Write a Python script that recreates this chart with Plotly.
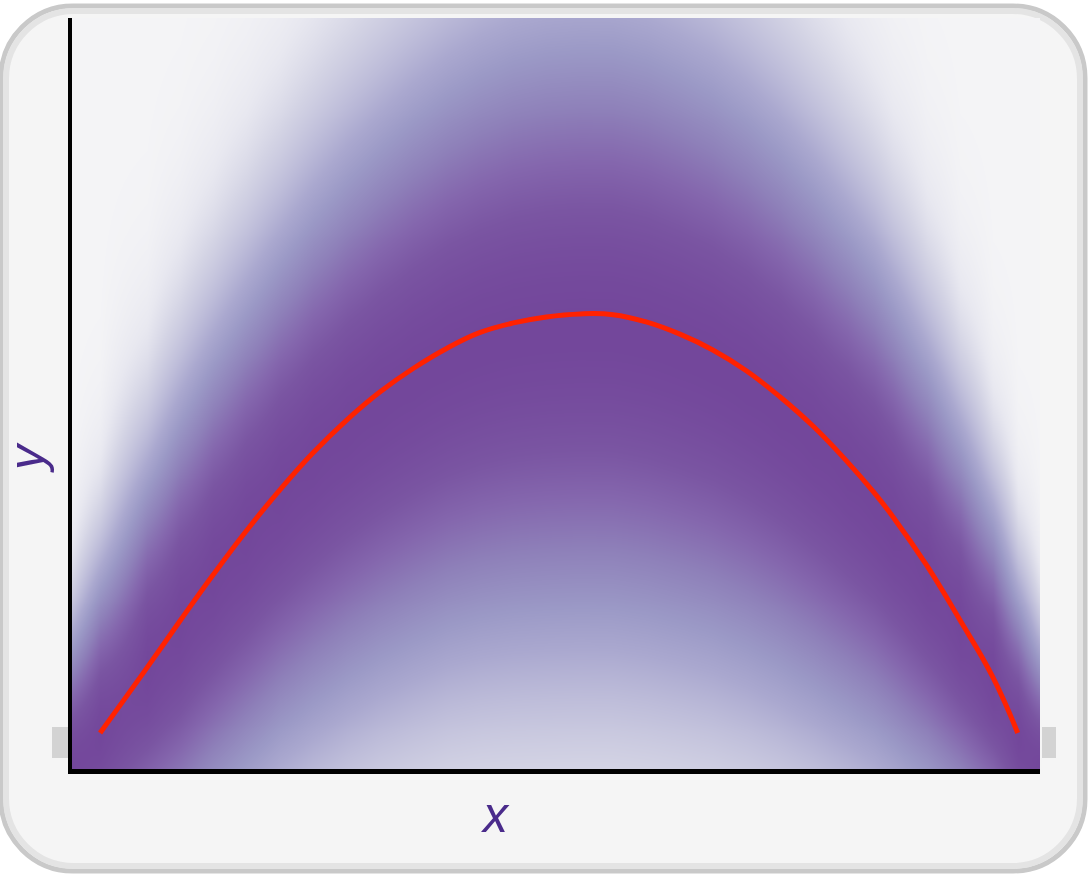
import numpy as np
import plotly.graph_objs as go

# red mean curve (x, y in 0..1 of the plot box)
curve_x = [0.029, 0.077, 0.112, 0.146, 0.180, 0.215, 0.249, 0.284, 0.318, 0.352,
           0.387, 0.421, 0.456, 0.490, 0.525, 0.559, 0.594, 0.628, 0.662, 0.697,
           0.731, 0.766, 0.801, 0.828, 0.848, 0.883, 0.917, 0.951, 0.977]
curve_y = [0.048, 0.134, 0.198, 0.259, 0.317, 0.372, 0.421, 0.465, 0.502, 0.533,
           0.560, 0.581, 0.594, 0.602, 0.606, 0.605, 0.595, 0.579, 0.558, 0.530,
           0.496, 0.456, 0.409, 0.369, 0.336, 0.271, 0.199, 0.123, 0.048]

# shaded band: centre and spread at each column (edges added at x = 0 and 1)
band_x = [0.0] + curve_x + [1.0]
band_mid = [0.0, 0.045, 0.131, 0.191, 0.253, 0.308, 0.363, 0.410, 0.452, 0.487, 0.517,
            0.544, 0.563, 0.576, 0.583, 0.586, 0.585, 0.575, 0.559, 0.540, 0.512,
            0.479, 0.440, 0.395, 0.357, 0.323, 0.260, 0.191, 0.118, 0.045, 0.0]
band_sd = [0.135, 0.165, 0.205, 0.229, 0.242, 0.253, 0.262, 0.272, 0.280, 0.287, 0.294,
           0.300, 0.306, 0.311, 0.314, 0.315, 0.315, 0.313, 0.309, 0.304, 0.297,
           0.289, 0.279, 0.267, 0.256, 0.246, 0.226, 0.202, 0.173, 0.146, 0.12]

# plot box in page pixels
L, R, T, B = 72, 1040, 18, 769


def px(x):
    return (x - L) / (R - L)


def py(y):
    return (B - y) / (B - T)


def rounded_box(x0, y0, x1, y1, r):
    k = 0.5523 * r
    pts = [
        f"M{px(x0 + r)},{py(y0)}",
        f"L{px(x1 - r)},{py(y0)}",
        f"C{px(x1 - r + k)},{py(y0)} {px(x1)},{py(y0 + r - k)} {px(x1)},{py(y0 + r)}",
        f"L{px(x1)},{py(y1 - r)}",
        f"C{px(x1)},{py(y1 - r + k)} {px(x1 - r + k)},{py(y1)} {px(x1 - r)},{py(y1)}",
        f"L{px(x0 + r)},{py(y1)}",
        f"C{px(x0 + r - k)},{py(y1)} {px(x0)},{py(y1 - r + k)} {px(x0)},{py(y1 - r)}",
        f"L{px(x0)},{py(y0 + r)}",
        f"C{px(x0)},{py(y0 + r - k)} {px(x0 + r - k)},{py(y0)} {px(x0 + r)},{py(y0)}",
        "Z",
    ]
    return " ".join(pts)


y_grid = np.linspace(-0.02, 1.03, 160)
mid = np.array(band_mid)
sd = np.array(band_sd)
z = np.exp(-0.5 * ((y_grid[:, None] - mid[None, :]) / sd[None, :]) ** 2)

purples = [
    [0.0, "#f4f4f6"],
    [0.08, "#e8e8f0"],
    [0.18, "#d3d3e4"],
    [0.3, "#bdbcd9"],
    [0.4, "#aaa8cf"],
    [0.5, "#9b99c6"],
    [0.65, "#8e80b9"],
    [0.78, "#8466ad"],
    [0.88, "#7a55a2"],
    [1.0, "#73479b"],
]

fig = go.Figure()

fig.add_trace(go.Heatmap(x=band_x, y=y_grid, z=z, colorscale=purples, zmin=0, zmax=1,
                         zsmooth="best", showscale=False, hoverinfo="skip"))

fig.add_trace(go.Scatter(x=curve_x, y=curve_y, mode="lines",
                         line=dict(color="#ff2200", width=5, shape="spline", smoothing=1.2),
                         hoverinfo="skip", showlegend=False))

# rounded panel behind everything
fig.add_shape(type="path", path=rounded_box(1, 6, 1085, 871, 72), xref="paper", yref="paper",
              fillcolor="#f5f5f5", line=dict(color="#c9c9c9", width=5), layer="below")
fig.add_shape(type="path", path=rounded_box(6, 11, 1080, 866, 68), xref="paper", yref="paper",
              fillcolor="rgba(0,0,0,0)", line=dict(color="#e4e4e4", width=6), layer="below")

# little grey smudges either side of the baseline
for x0, x1 in [(52, 68), (1042, 1056)]:
    fig.add_shape(type="rect", x0=px(x0), x1=px(x1), y0=py(758), y1=py(727), xref="paper", yref="paper",
                  fillcolor="rgba(170,170,170,0.45)", line=dict(width=0), layer="below")

label_font = dict(family="Liberation Sans, Arial, sans-serif", size=50, color="#4a2b8b")
fig.add_annotation(text="<i>x</i>", x=px(495), y=py(815), xref="paper", yref="paper",
                   showarrow=False, font=label_font, xanchor="center", yanchor="middle")
fig.add_annotation(text="<i>y</i>", x=px(27), y=py(458), xref="paper", yref="paper",
                   showarrow=False, font=label_font, textangle=-90, xanchor="center", yanchor="middle")

axis_style = dict(range=[0, 1], showgrid=False, zeroline=False, showticklabels=False, ticks="",
                  showline=True, linecolor="black", linewidth=4, fixedrange=True)

fig.update_layout(
    width=1088, height=881,
    margin=dict(l=L, r=1088 - R, t=T, b=881 - B),
    paper_bgcolor="white",
    plot_bgcolor="rgba(0,0,0,0)",
    xaxis=axis_style,
    yaxis=axis_style,
    showlegend=False,
)
fig.update_xaxes(linewidth=5)

fig.write_html("out.html", config={"displayModeBar": False},
               post_script="document.body.style.margin = '0px';")
